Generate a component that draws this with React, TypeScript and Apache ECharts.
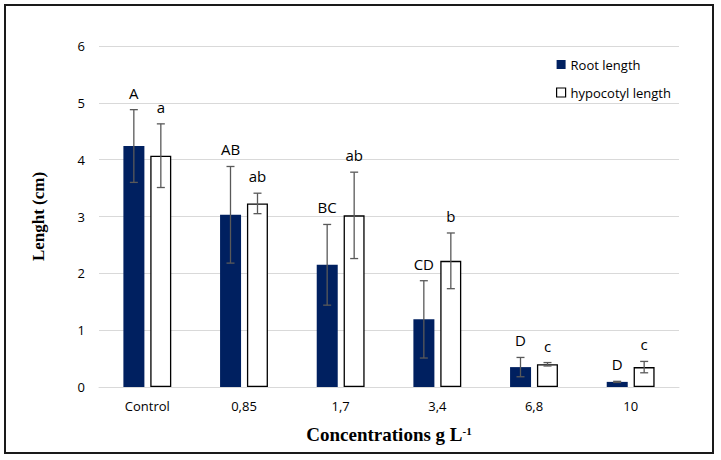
import React, { useEffect, useRef } from "react";
import * as echarts from "echarts";

const categories = ["Control", "0,85", "1,7", "3,4", "6,8", "10"];
const rootLength = [4.24, 3.03, 2.15, 1.19, 0.35, 0.09];
const rootError = [0.64, 0.85, 0.71, 0.68, 0.17, 0.01];
const hypocotylLength = [4.07, 3.23, 3.02, 2.22, 0.4, 0.35];
const hypocotylError = [0.56, 0.18, 0.76, 0.49, 0.03, 0.1];
const rootLetters = ["A", "AB", "BC", "CD", "D", "D"];
const hypocotylLetters = ["a", "ab", "ab", "b", "c", "c"];
const yTicks = [0, 1, 2, 3, 4, 5, 6];

const BAR_W = 21;
const BAR_GAP = 6;

export default function App() {
  const ref = useRef<HTMLDivElement>(null);
  useEffect(() => {
    if (!ref.current) return;
    const chart = echarts.init(ref.current, null, { renderer: "svg" });
    const offsets = [-(BAR_W + BAR_GAP) / 2, (BAR_W + BAR_GAP) / 2];
    const means = [rootLength, hypocotylLength];
    const errs = [rootError, hypocotylError];
    const letters = [rootLetters, hypocotylLetters];
    const tickFont = "'Open Sans', 'Liberation Sans', sans-serif";
    chart.setOption({
      animation: false,
      backgroundColor: "#ffffff",
      grid: { left: 99, right: 42, top: 46, bottom: 73 },
      legend: {
        data: [
          { name: "Root length", itemStyle: { color: "#002060", borderWidth: 0 } },
          { name: "hypocotyl length", itemStyle: { color: "#ffffff", borderColor: "#000000", borderWidth: 1.2 } },
        ],
        orient: "vertical",
        left: 551,
        top: 53,
        itemWidth: 9,
        itemHeight: 9,
        itemGap: 15,
        icon: "rect",
        textStyle: { fontFamily: tickFont, fontSize: 13, color: "#000" },
      },
      xAxis: {
        type: "category",
        data: categories,
        axisLine: { lineStyle: { color: "#d9d9d9", width: 1 } },
        axisTick: { show: false },
        axisLabel: { fontFamily: tickFont, fontSize: 13, color: "#000", margin: 12 },
        name: "Concentrations g L{sup|-1}",
        nameLocation: "middle",
        nameGap: 38,
        nameTextStyle: {
          fontFamily: "'Liberation Serif', 'Times New Roman', serif",
          fontWeight: "bold",
          fontSize: 19,
          color: "#000",
          rich: {
            sup: {
              fontFamily: "'Liberation Serif', 'Times New Roman', serif",
              fontWeight: "bold",
              fontSize: 11,
              color: "#000",
              verticalAlign: "top",
              padding: [0, 0, 8, 0],
            },
          },
        },
      },
      yAxis: {
        type: "value",
        min: 0,
        max: 6,
        interval: 1,
        axisLine: { show: false },
        axisTick: { show: false },
        splitLine: { lineStyle: { color: "#d9d9d9", width: 1 } },
        axisLabel: {
          fontFamily: tickFont,
          fontSize: 13,
          color: "#000",
          margin: 14,
          formatter: (v: number) => (yTicks.includes(v) ? String(v) : ""),
        },
        name: "Lenght (cm)",
        nameLocation: "middle",
        nameGap: 52,
        nameTextStyle: {
          fontFamily: "'Liberation Serif', 'Times New Roman', serif",
          fontWeight: "bold",
          fontSize: 17,
          color: "#000",
        },
      },
      series: [
        {
          name: "Root length",
          type: "bar",
          data: rootLength,
          barWidth: BAR_W,
          barGap: "28%",
          itemStyle: { color: "#002060" },
        },
        {
          name: "hypocotyl length",
          type: "bar",
          data: hypocotylLength,
          barWidth: BAR_W,
          barGap: "28%",
          itemStyle: { color: "#ffffff", borderColor: "#000000", borderWidth: 1.3 },
        },
        {
          name: "errors",
          type: "custom",
          data: categories.map((_, i) => [i]),
          encode: { x: 0 },
          z: 10,
          renderItem: (params: any, api: any) => {
            const idx = api.value(0);
            const children: any[] = [];
            for (let s = 0; s < 2; s++) {
              const m = means[s][idx];
              const e = errs[s][idx];
              const cx = api.coord([idx, m])[0] + offsets[s];
              const top = api.coord([idx, m + e])[1];
              const bot = api.coord([idx, m - e])[1];
              const st = { stroke: "#595959", lineWidth: 1.3 };
              children.push({ type: "line", shape: { x1: cx, y1: top, x2: cx, y2: bot }, style: st });
              children.push({ type: "line", shape: { x1: cx - 4, y1: top, x2: cx + 4, y2: top }, style: st });
              children.push({ type: "line", shape: { x1: cx - 4, y1: bot, x2: cx + 4, y2: bot }, style: st });
              children.push({
                type: "text",
                x: cx,
                y: top - 17,
                style: {
                  text: letters[s][idx],
                  fontFamily: tickFont,
                  fontSize: 15,
                  fill: "#000",
                  align: "center",
                  verticalAlign: "middle",
                },
              });
            }
            return { type: "group", children };
          },
        },
      ],
      graphic: [
        {
          type: "rect",
          shape: { x: 5, y: 5, width: 708, height: 448 },
          style: { fill: "none", stroke: "#1a1a1a", lineWidth: 2 },
          silent: true,
        },
      ],
    });
    return () => chart.dispose();
  }, []);
  return (
    <div
      ref={ref}
      style={{ position: "fixed", left: 0, top: 0, width: 721, height: 460, background: "#fff" }}
    />
  );
}
